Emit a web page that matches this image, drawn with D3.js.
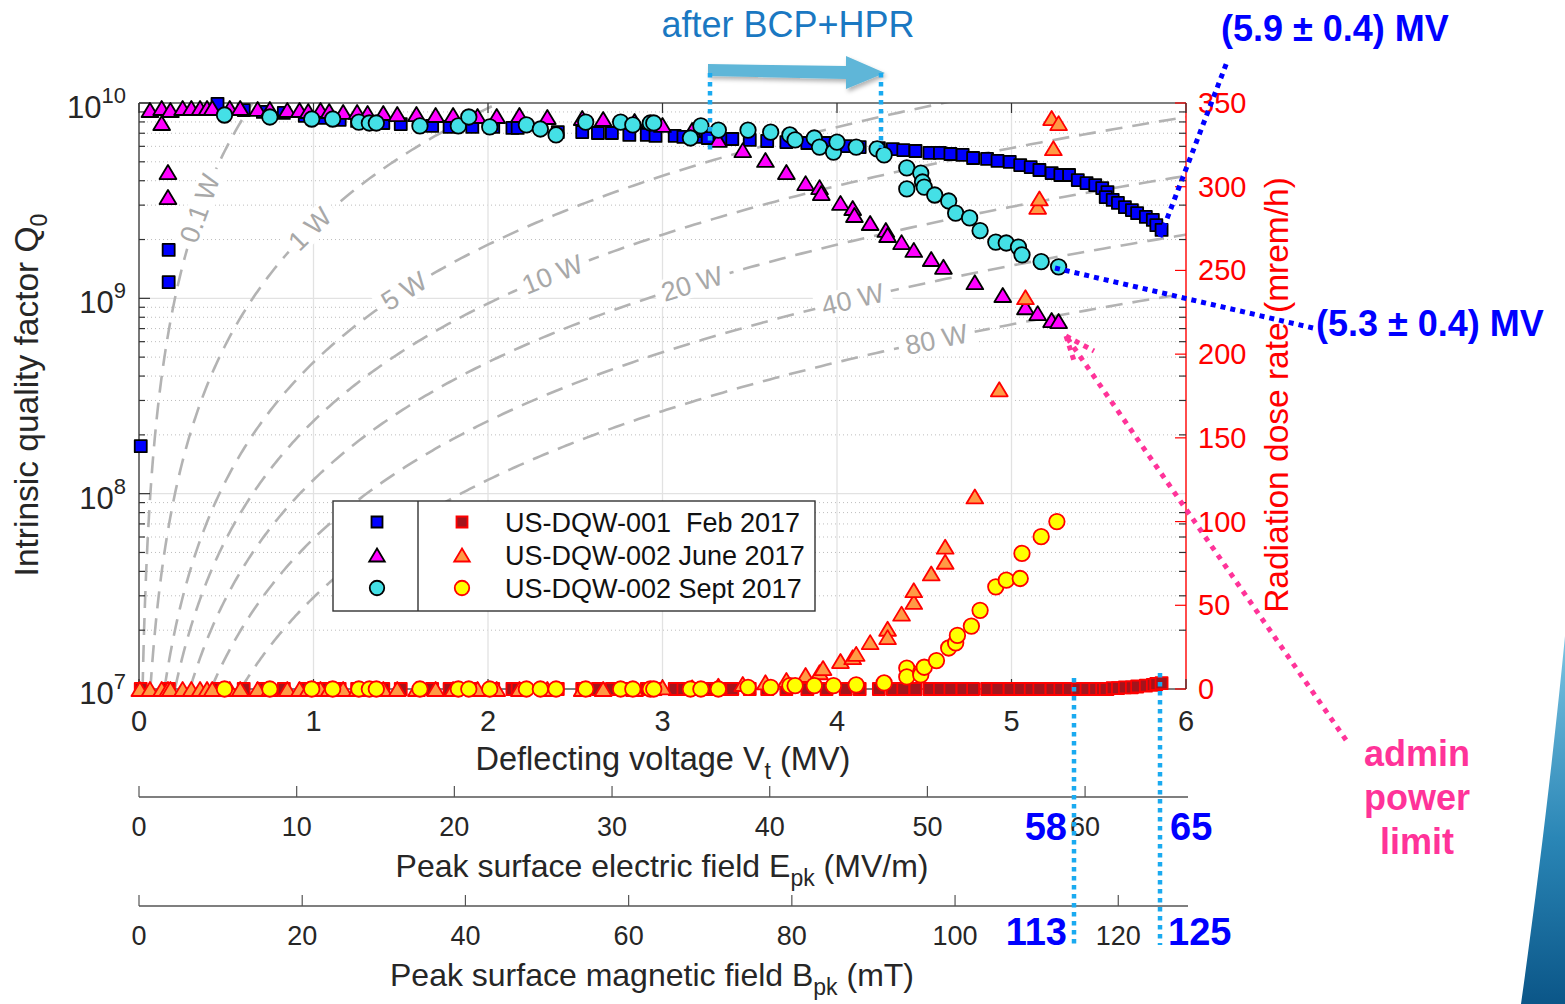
<!DOCTYPE html>
<html><head><meta charset="utf-8">
<script src="https://cdn.jsdelivr.net/npm/d3@7"></script>
<style>
body{margin:0;background:#fff;}
text{font-family:"Liberation Sans",Arial,Helvetica,sans-serif;}
</style>
</head><body>
<svg id="c" width="1565" height="1004"></svg>
<script>
// ---------------- DATA ----------------
// US-DQW-001 Feb 2017 : deflecting voltage (MV), Q0 (x1e9), dose (mrem/h)
const febV = [0.01,0.17,0.17,0.45,0.60,0.71,0.83,0.95,1.05,1.15,1.25,1.40,1.50,1.68,1.78,1.91,2.03,2.14,2.17,2.40,2.54,2.63,2.71,2.81,2.91,2.96,3.07,3.12,3.19,3.26,3.35,3.40,3.50,3.60,3.71,3.83,3.94,4.05,4.13,4.24,4.32,4.38,4.45,4.53,4.59,4.65,4.72,4.78,4.86,4.92,4.99,5.05,5.11,5.16,5.23,5.28,5.33,5.38,5.43,5.48,5.52,5.55,5.54,5.58,5.61,5.65,5.69,5.72,5.77,5.81,5.83,5.86];
const febQ0 = [0.175,1.21,1.77,9.9,9.2,9.0,8.9,8.6,8.4,8.2,8.1,7.9,7.8,7.63,7.54,7.54,7.54,7.45,7.45,7.10,7.10,7.02,7.02,6.86,6.86,6.78,6.78,6.70,6.70,6.62,6.54,6.54,6.47,6.39,6.31,6.24,6.24,6.02,5.95,5.88,5.81,5.74,5.68,5.55,5.55,5.48,5.42,5.23,5.17,5.05,4.99,4.81,4.70,4.54,4.38,4.28,4.28,4.03,3.89,3.80,3.67,3.50,3.30,3.19,3.08,2.93,2.83,2.73,2.61,2.52,2.37,2.24];
const febDose = [0,0,0,0,0,0,0,0,0,0,0,0,0,0,0,0,0,0,0,0,0,0,0,0,0,0,0,0,0,0,0,0,0,0,0,0,0,0,0,0,0,0,0,0,0,0,0,0,0,0,0,0,0,0,0,0,0,0,0,0,0,0,0,0.5,0.5,1,1,1.5,2,2.5,3,3.5];

// US-DQW-002 June 2017
const juneV = [0.063,0.13,0.13,0.166,0.166,0.18,0.25,0.30,0.35,0.39,0.42,0.52,0.58,0.68,0.75,0.85,0.92,0.97,1.04,1.09,1.17,1.25,1.31,1.40,1.48,1.59,1.70,1.80,1.94,2.05,2.18,2.34,2.54,2.66,2.84,3.00,3.17,3.32,3.46,3.59,3.71,3.82,3.90,3.91,4.02,4.09,4.10,4.19,4.28,4.29,4.37,4.44,4.54,4.61,4.79,4.95,5.08,5.15,5.23,5.27];
const juneQ0 = [9.21,9.43,7.90,4.43,3.30,9.21,9.43,9.43,9.43,9.43,9.43,9.43,9.43,9.32,9.32,9.21,9.21,9.10,9.21,9.10,9.0,9.0,8.89,8.89,8.78,8.78,8.68,8.68,8.58,8.58,8.68,8.48,8.38,8.28,8.09,7.72,7.27,6.47,5.74,5.11,4.43,3.89,3.71,3.46,3.08,2.90,2.67,2.43,2.24,2.11,1.94,1.77,1.59,1.45,1.21,1.04,0.90,0.84,0.774,0.765];
const juneDoseV = [0.005,0.063,0.13,0.166,0.18,0.25,0.30,0.35,0.39,0.42,0.52,0.58,0.68,0.75,0.85,0.92,0.97,1.04,1.09,1.17,1.25,1.31,1.40,1.48,1.59,1.70,1.80,1.94,2.05,2.18,2.34,2.54,2.66,2.84,3.00,3.17,3.32,3.46,3.59,3.71,3.82,3.90,3.92,4.02,4.09,4.11,4.19,4.29,4.29,4.37,4.44,4.44,4.54,4.62,4.62,4.79,4.93,5.08,5.15,5.16,5.23,5.24,5.27];
const juneDose = [0,0,0,0,0,0,0,0,0,0,0,0,0,0,0,0,0,0,0,0,0,0,0,0,0,0,0,0,0,0,0,0,0,0,1,1,2,3,4,5.4,8.4,10,12.5,16.7,19,21,28,36,31,45,52,59,69,76,85,115,179,234,288,293,341,323,338];

// US-DQW-002 Sept 2017
const septV = [0.49,0.75,0.99,1.11,1.26,1.32,1.36,1.61,1.83,1.89,2.01,2.22,2.30,2.39,2.56,2.76,2.83,2.93,2.95,3.16,3.22,3.32,3.49,3.62,3.73,3.76,3.87,3.90,3.98,4.00,4.11,4.23,4.27,4.40,4.40,4.48,4.49,4.50,4.56,4.64,4.68,4.76,4.82,4.91,4.97,5.04,5.06,5.17,5.27];
const septQ0 = [8.68,8.48,8.28,8.28,7.99,7.90,7.90,7.63,7.63,8.48,7.54,7.72,7.36,6.86,7.99,7.99,7.72,7.90,7.90,6.62,7.63,7.27,7.27,7.10,6.86,6.47,6.62,5.95,5.61,6.31,5.95,5.82,5.42,4.65,3.63,4.38,3.94,3.71,3.38,3.15,2.73,2.58,2.22,1.94,1.92,1.83,1.67,1.54,1.45];
const septDoseV = [0.49,0.75,0.99,1.11,1.26,1.32,1.36,1.61,1.83,1.89,2.01,2.22,2.30,2.39,2.56,2.76,2.83,2.93,2.95,3.16,3.22,3.32,3.49,3.62,3.73,3.76,3.87,3.98,4.11,4.27,4.40,4.40,4.48,4.48,4.50,4.57,4.64,4.68,4.69,4.77,4.82,4.91,4.97,5.05,5.06,5.17,5.26];
const septDose = [0,0,0,0,0,0,0,0,0,0,0,0,0,0,0,0,0,0,0,0,0,0,1,1,2,2,2,2,2.5,3.6,12.5,7.2,10,8.4,13,17,24.5,27.5,32,37.6,47,61,65,66,81,91,100];

// Iso-power lines (W) and their labels
const powerLevels = [0.1,1,5,10,20,40,80];
const powerLabels = ["0.1 W","1 W","5 W","10 W","20 W","40 W","80 W"];
const powerLabelV = [0.35,0.98,1.52,2.37,3.17,4.09,4.57];
const RoverQ = 425; // ohm

// Tick values
const vTicks = [0,1,2,3,4,5,6];
const qDecades = [1e7,1e8,1e9,1e10];
const qExp = ["7","8","9","10"];
const doseTicks = [0,50,100,150,200,250,300,350];
const eTicks = [0,10,20,30,40,50,60];
const bTicks = [0,20,40,60,80,100,120];

const legendNames = ["US-DQW-001  Feb 2017","US-DQW-002 June 2017","US-DQW-002 Sept 2017"];

// ---------------- CHART ----------------
const svg = d3.select("#c");
const L=139, R=1186, T=103, B=689;
const x = d3.scaleLinear().domain([0,6]).range([L,R]);
const y = d3.scaleLog().domain([1e7,1e10]).range([B,T]);
const yR = d3.scaleLinear().domain([0,350]).range([B,T]);
const xE = d3.scaleLinear().domain([0,66.4]).range([L,R]);
const xBk = d3.scaleLinear().domain([0,128.3]).range([L,R]);

const defs = svg.append("defs");
defs.append("clipPath").attr("id","plotclip").append("rect").attr("x",L).attr("y",T).attr("width",R-L).attr("height",B-T);
const grad = defs.append("linearGradient").attr("id","slide").attr("x1",0).attr("y1",0).attr("x2",0).attr("y2",1);
grad.append("stop").attr("offset","0%").attr("stop-color","#7cc4e2");
grad.append("stop").attr("offset","55%").attr("stop-color","#2a86b6");
grad.append("stop").attr("offset","100%").attr("stop-color","#0b5688");
const sh = defs.append("filter").attr("id","shadow").attr("x","-20%").attr("y","-20%").attr("width","140%").attr("height","160%");
sh.append("feDropShadow").attr("dx",2).attr("dy",3).attr("stdDeviation",2).attr("flood-color","#000").attr("flood-opacity",0.3);

// slide decoration
svg.append("path").attr("d","M1565,636 C1556,730 1540,870 1521,1004 L1565,1004 Z").attr("fill","url(#slide)");

// grid
const grid = svg.append("g").attr("clip-path","url(#plotclip)");
const minor = [];
[1e7,1e8,1e9].forEach(d=>{for(let m=2;m<=9;m++) minor.push(d*m);});
grid.selectAll(".ym").data(minor).join("line")
  .attr("x1",L).attr("x2",R).attr("y1",d=>y(d)).attr("y2",d=>y(d))
  .attr("stroke","#bdbdbd").attr("stroke-width",1).attr("stroke-dasharray","1,3");
grid.selectAll(".yM").data([1e8,1e9]).join("line")
  .attr("x1",L).attr("x2",R).attr("y1",d=>y(d)).attr("y2",d=>y(d))
  .attr("stroke","#e2e2e2").attr("stroke-width",1.3);
grid.selectAll(".xM").data([1,2,3,4,5]).join("line")
  .attr("x1",d=>x(d)).attr("x2",d=>x(d)).attr("y1",T).attr("y2",B)
  .attr("stroke","#e2e2e2").attr("stroke-width",1.3);

// iso-power lines
const pg = svg.append("g").attr("clip-path","url(#plotclip)");
const line = d3.line();
powerLevels.forEach((P)=>{
  const vmin = Math.sqrt(P*RoverQ*1e7)/1e6;
  const vmax = Math.min(6.05, Math.sqrt(P*RoverQ*1.05e10)/1e6);
  const pts = d3.range(0,301).map(k=>{
    const v = vmin*Math.pow(vmax/vmin,k/300);
    return [x(v), y(v*v*1e12/(RoverQ*P))];
  });
  pg.append("path").attr("d",line(pts)).attr("fill","none")
    .attr("stroke","#b3b3b3").attr("stroke-width",2.6).attr("stroke-dasharray","17,10");
});
const lg = svg.append("g");
powerLevels.forEach((P,i)=>{
  const v = powerLabelV[i];
  const q = v*v*1e12/(RoverQ*P);
  const v2 = v*1.01, q2 = v2*v2*1e12/(RoverQ*P);
  const px = x(v), py = y(q);
  const ang = Math.atan2(y(q2)-py, x(v2)-px)*180/Math.PI;
  const g = lg.append("g").attr("transform",`translate(${px},${py}) rotate(${ang})`);
  const r = g.append("rect").attr("fill","#fff");
  const t = g.append("text").attr("text-anchor","middle").attr("dominant-baseline","central")
    .attr("font-size",27).attr("fill","#a8a8a8").text(powerLabels[i]);
  const bb = t.node().getBBox();
  r.attr("x",bb.x-7).attr("y",bb.y+2).attr("width",bb.width+14).attr("height",bb.height-4);
});

// axes frame
const ax = svg.append("g");
const dark = "#262626";
ax.append("line").attr("x1",L).attr("x2",L).attr("y1",T).attr("y2",B).attr("stroke","#555").attr("stroke-width",1.6);
ax.append("line").attr("x1",L).attr("x2",R).attr("y1",T).attr("y2",T).attr("stroke","#555").attr("stroke-width",1.6);
ax.append("line").attr("x1",L).attr("x2",R).attr("y1",B).attr("y2",B).attr("stroke","#555").attr("stroke-width",1.6);
ax.append("line").attr("x1",R).attr("x2",R).attr("y1",T).attr("y2",B).attr("stroke","#ff0000").attr("stroke-width",1.4);
ax.selectAll(".lmin").data(minor).join("line").attr("x1",L).attr("x2",L+6).attr("y1",d=>y(d)).attr("y2",d=>y(d)).attr("stroke","#333").attr("stroke-width",1.2);
ax.selectAll(".lmaj").data(qDecades).join("line").attr("x1",L).attr("x2",L+11).attr("y1",d=>y(d)).attr("y2",d=>y(d)).attr("stroke","#333").attr("stroke-width",1.2);
ax.selectAll(".rmin").data(minor).join("line").attr("x1",R-7).attr("x2",R).attr("y1",d=>y(d)).attr("y2",d=>y(d)).attr("stroke","#333").attr("stroke-width",1.2);
ax.selectAll(".rmaj").data(doseTicks).join("line").attr("x1",R-11).attr("x2",R).attr("y1",d=>yR(d)).attr("y2",d=>yR(d)).attr("stroke","#ff0000").attr("stroke-width",1.2);
ax.selectAll(".tt").data(vTicks).join("line").attr("x1",d=>x(d)).attr("x2",d=>x(d)).attr("y1",T).attr("y2",T+10).attr("stroke","#333").attr("stroke-width",1.2);
ax.selectAll(".bt").data(vTicks).join("line").attr("x1",d=>x(d)).attr("x2",d=>x(d)).attr("y1",B).attr("y2",B-10).attr("stroke","#333").attr("stroke-width",1.2);

// y tick labels
qDecades.forEach((d,i)=>{
  const t = ax.append("text").attr("x",126).attr("y",y(d)+15).attr("text-anchor","end").attr("font-size",31).attr("fill",dark);
  t.append("tspan").text("10");
  t.append("tspan").attr("dy",-15).attr("font-size",22).text(qExp[i]);
});
ax.selectAll(".rl").data(doseTicks).join("text").attr("x",1198).attr("y",d=>yR(d)+10).attr("font-size",29).attr("fill","#ff0000").text(d=>d);
ax.selectAll(".xl").data(vTicks).join("text").attr("x",d=>x(d)).attr("y",731).attr("text-anchor","middle").attr("font-size",29).attr("fill",dark).text(d=>d);

// titles
function subTitle(g, parts, attrs){
  const t = g.append("text");
  Object.entries(attrs).forEach(([k,v])=>t.attr(k,v));
  parts.forEach(p=>{
    const s = t.append("tspan").text(p.t);
    if(p.sub){ s.attr("dy",9).attr("font-size",23); }
    if(p.back){ s.attr("dy",-9); }
  });
  return t;
}
subTitle(ax,[{t:"Deflecting voltage V"},{t:"t",sub:true},{t:" (MV)",back:true}],
  {x:663,y:770,"text-anchor":"middle","font-size":32.5,fill:dark});
subTitle(ax,[{t:"Intrinsic quality factor Q"},{t:"0",sub:true}],
  {transform:"translate(38,395) rotate(-90)","text-anchor":"middle","font-size":33.5,fill:dark});
ax.append("text").attr("transform","translate(1288,395) rotate(-90)").attr("text-anchor","middle")
  .attr("font-size",33.5).attr("fill","#ff0000").text("Radiation dose rate (mrem/h)");

// E_pk axis
const eY = 797;
ax.append("line").attr("x1",L).attr("x2",R+2).attr("y1",eY).attr("y2",eY).attr("stroke","#555").attr("stroke-width",1.6);
ax.selectAll(".et").data(eTicks).join("line").attr("x1",d=>xE(d)).attr("x2",d=>xE(d)).attr("y1",eY).attr("y2",eY-11).attr("stroke","#555").attr("stroke-width",1.2);
ax.selectAll(".el").data(eTicks).join("text").attr("x",d=>xE(d)).attr("y",836).attr("text-anchor","middle").attr("font-size",27).attr("fill",dark).text(d=>d);
subTitle(ax,[{t:"Peak surface electric field E"},{t:"pk",sub:true},{t:" (MV/m)",back:true}],
  {x:662,y:877,"text-anchor":"middle","font-size":32,fill:dark});
// B_pk axis
const bY = 906;
ax.append("line").attr("x1",L).attr("x2",R+2).attr("y1",bY).attr("y2",bY).attr("stroke","#555").attr("stroke-width",1.6);
ax.selectAll(".btk").data(bTicks).join("line").attr("x1",d=>xBk(d)).attr("x2",d=>xBk(d)).attr("y1",bY).attr("y2",bY-11).attr("stroke","#555").attr("stroke-width",1.2);
ax.selectAll(".bl").data(bTicks).join("text").attr("x",d=>xBk(d)).attr("y",945).attr("text-anchor","middle").attr("font-size",27).attr("fill",dark).text(d=>d);
subTitle(ax,[{t:"Peak surface magnetic field B"},{t:"pk",sub:true},{t:" (mT)",back:true}],
  {x:652,y:986,"text-anchor":"middle","font-size":32,fill:dark});

// markers
const shapes = {
  square: s=>`M${-s/2},${-s/2}h${s}v${s}h${-s}Z`,
  triangle: s=>{const w=s*1.2,h=s*1.0;return `M0,${-h/2}L${w/2},${h/2}L${-w/2},${h/2}Z`;},
  circle: s=>{const r=s/2;return `M${r},0A${r},${r} 0 1,1 ${-r},0A${r},${r} 0 1,1 ${r},0Z`;}
};
const styles = [
  {shape:"square",size:12,fill:"#0000ff",stroke:"#000"},
  {shape:"triangle",size:14,fill:"#ff00ff",stroke:"#000"},
  {shape:"circle",size:15.5,fill:"#44e0e6",stroke:"#000"},
  {shape:"square",size:12,fill:"#a3141c",stroke:"#ff0000"},
  {shape:"triangle",size:14,fill:"#ff9a45",stroke:"#ff0000"},
  {shape:"circle",size:15.5,fill:"#ffff00",stroke:"#ff0000"}
];
function drawSeries(xs, ys, yscale, st){
  const data = xs.map((v,i)=>[v,ys[i]]);
  svg.append("g").selectAll("path").data(data).join("path")
    .attr("d",shapes[st.shape](st.size))
    .attr("transform",d=>`translate(${x(d[0])},${yscale(d[1])})`)
    .attr("fill",st.fill).attr("stroke",st.stroke).attr("stroke-width",1.8).attr("stroke-linejoin","round");
}
const q = a=>a.map(v=>v*1e9);
drawSeries(febV, q(febQ0), y, styles[0]);
drawSeries(juneV, q(juneQ0), y, styles[1]);
drawSeries(septV, q(septQ0), y, styles[2]);
drawSeries(febV, febDose, yR, styles[3]);
drawSeries(juneDoseV, juneDose, yR, styles[4]);
drawSeries(septDoseV, septDose, yR, styles[5]);

// legend
const leg = svg.append("g");
leg.append("rect").attr("x",333).attr("y",501).attr("width",482).attr("height",110).attr("fill","#fff").attr("stroke","#333").attr("stroke-width",1.4);
leg.append("line").attr("x1",418).attr("x2",418).attr("y1",501).attr("y2",611).attr("stroke","#333").attr("stroke-width",1.4);
const rowsY = [522,555,588];
legendNames.forEach((n,i)=>{
  const a = styles[i], b = styles[i+3];
  leg.append("path").attr("d",shapes[a.shape](a.size-1)).attr("transform",`translate(377,${rowsY[i]})`).attr("fill",a.fill).attr("stroke",a.stroke).attr("stroke-width",1.8);
  leg.append("path").attr("d",shapes[b.shape](b.size-1)).attr("transform",`translate(462,${rowsY[i]})`).attr("fill",b.fill).attr("stroke",b.stroke).attr("stroke-width",1.8);
  leg.append("text").attr("x",505).attr("y",rowsY[i]+10).attr("font-size",27).attr("fill","#111").style("white-space","pre").text(n);
});

// annotations
const an = svg.append("g");
an.append("text").attr("x",788).attr("y",37).attr("text-anchor","middle").attr("font-size",36).attr("fill","#1a78c2").text("after BCP+HPR");
an.append("path").attr("d","M708,64 L846,66 L846,56 L885,73 L846,89 L846,79 L708,76 Z").attr("fill","#5fb6d8").attr("filter","url(#shadow)");
const cyan = "#1aaaf0";
[[710,73,152],[881,73,148],[1074,678,945],[1160,673,945]].forEach(d=>{
  an.append("line").attr("x1",d[0]).attr("x2",d[0]).attr("y1",d[1]).attr("y2",d[2]).attr("stroke",cyan).attr("stroke-width",4.5).attr("stroke-dasharray","4.5,4.5");
});
const blue = "#0000ff";
an.append("line").attr("x1",1160).attr("y1",237).attr("x2",1227).attr("y2",62).attr("stroke",blue).attr("stroke-width",5).attr("stroke-dasharray","5,5");
an.append("line").attr("x1",1055).attr("y1",268).attr("x2",1313).attr("y2",328).attr("stroke",blue).attr("stroke-width",5).attr("stroke-dasharray","5,5");
an.append("text").attr("x",1221).attr("y",41).attr("font-size",36).attr("font-weight","bold").attr("fill",blue).text("(5.9 \u00b1 0.4) MV");
an.append("text").attr("x",1316).attr("y",336).attr("font-size",36).attr("font-weight","bold").attr("fill",blue).text("(5.3 \u00b1 0.4) MV");
an.append("text").attr("x",1067).attr("y",840).attr("text-anchor","end").attr("font-size",38).attr("font-weight","bold").attr("fill",blue).text("58");
an.append("text").attr("x",1170).attr("y",840).attr("font-size",38).attr("font-weight","bold").attr("fill",blue).text("65");
an.append("text").attr("x",1067).attr("y",945).attr("text-anchor","end").attr("font-size",38).attr("font-weight","bold").attr("fill",blue).text("113");
an.append("text").attr("x",1168).attr("y",945).attr("font-size",38).attr("font-weight","bold").attr("fill",blue).text("125");
const pink = "#ff3399";
an.append("line").attr("x1",1346).attr("y1",740).attr("x2",1068).attr("y2",339).attr("stroke",pink).attr("stroke-width",5).attr("stroke-dasharray","5,6");
an.append("line").attr("x1",1066).attr("y1",336).attr("x2",1094).attr("y2",351).attr("stroke",pink).attr("stroke-width",5).attr("stroke-dasharray","5,5");
an.append("line").attr("x1",1066).attr("y1",336).attr("x2",1075).attr("y2",364).attr("stroke",pink).attr("stroke-width",5).attr("stroke-dasharray","5,5");
["admin","power","limit"].forEach((w,i)=>{
  an.append("text").attr("x",1417).attr("y",766+i*44).attr("text-anchor","middle").attr("font-size",36).attr("font-weight","bold").attr("fill",pink).text(w);
});
</script>
</body></html>
